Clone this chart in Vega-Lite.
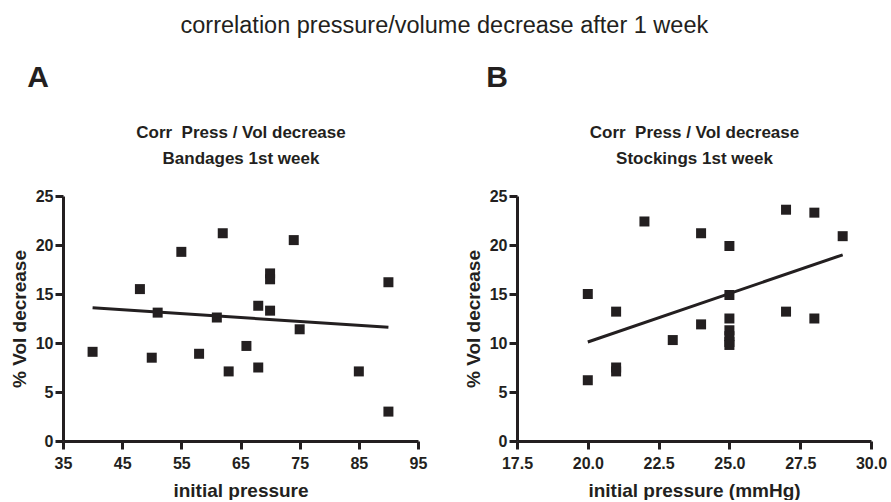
{
  "$schema": "https://vega.github.io/schema/vega-lite/v6.json",
  "background": "white",
  "padding": {"left": 10, "top": 14, "right": 0, "bottom": 0},
  "title": {"text": "correlation pressure/volume decrease after 1 week", "font": "Liberation Sans", "fontSize": 23.5, "fontWeight": "normal", "color": "#231f20", "anchor": "middle", "offset": 25.5, "dx": -4},
  "spacing": 37,
  "config": {
    "view": {"stroke": null},
    "axis": {"grid": false, "labelFlush": false, "labelOverlap": false, "domainColor": "#231f20", "domainWidth": 3, "tickColor": "#231f20", "tickWidth": 3, "tickSize": 8, "labelFont": "Liberation Sans", "labelFontWeight": "bold", "labelFontSize": 16, "labelColor": "#231f20", "labelPadding": 2, "titleFont": "Liberation Sans", "titleFontWeight": "bold", "titleFontSize": 19, "titleColor": "#231f20"},
    "axisX": {"labelPadding": 6, "titlePadding": 10},
    "axisY": {"titlePadding": 6},
    "title": {"font": "Liberation Sans", "color": "#231f20"}
  },
  "hconcat": [
    {
      "title": {"text": "A", "anchor": "start", "fontSize": 30, "fontWeight": "bold", "dx": 17, "offset": 30, "frame": "bounds"},
      "width": 355,
      "height": 245,
      "layer": [
        {
          "data": {"values": [
            {"pressure": 40, "decrease": 9.1}, {"pressure": 48, "decrease": 15.5}, {"pressure": 50, "decrease": 8.5}, {"pressure": 51, "decrease": 13.1},
            {"pressure": 55, "decrease": 19.3}, {"pressure": 58, "decrease": 8.9}, {"pressure": 61, "decrease": 12.6}, {"pressure": 62, "decrease": 21.2},
            {"pressure": 63, "decrease": 7.1}, {"pressure": 66, "decrease": 9.7}, {"pressure": 68, "decrease": 13.8}, {"pressure": 68, "decrease": 7.5},
            {"pressure": 70, "decrease": 17.1}, {"pressure": 70, "decrease": 16.5}, {"pressure": 70, "decrease": 13.3}, {"pressure": 74, "decrease": 20.5},
            {"pressure": 75, "decrease": 11.4}, {"pressure": 85, "decrease": 7.1}, {"pressure": 90, "decrease": 16.2}, {"pressure": 90, "decrease": 3.0}
          ]},
          "mark": {"type": "point", "shape": "square", "filled": true, "size": 100, "color": "#231f20", "opacity": 1},
          "encoding": {
            "x": {"field": "pressure", "type": "quantitative", "scale": {"domain": [35, 95], "nice": false, "zero": false}, "axis": {"orient": "bottom", "title": "initial pressure", "values": [35, 45, 55, 65, 75, 85, 95]}},
            "y": {"field": "decrease", "type": "quantitative", "scale": {"domain": [0, 25], "nice": false}, "axis": {"orient": "left", "title": "% Vol decrease", "values": [0, 5, 10, 15, 20, 25]}}
          }
        },
        {
          "data": {"values": [{"pressure": 40, "decrease": 13.6}, {"pressure": 90, "decrease": 11.6}]},
          "mark": {"type": "line", "color": "#231f20", "strokeWidth": 3},
          "encoding": {
            "x": {"field": "pressure", "type": "quantitative", "scale": {"domain": [35, 95], "nice": false, "zero": false}, "axis": {"orient": "top", "title": ["Corr\u00a0 Press / Vol decrease", "Bandages 1st week"], "titleFontSize": 17, "titleLineHeight": 26, "domain": false, "ticks": false, "labels": false, "grid": false, "titlePadding": 29}},
            "y": {"field": "decrease", "type": "quantitative", "scale": {"domain": [0, 25], "nice": false}, "axis": {"orient": "left", "title": "% Vol decrease", "values": [0, 5, 10, 15, 20, 25]}}
          }
        }
      ]
    },
    {
      "title": {"text": "B", "anchor": "start", "fontSize": 30, "fontWeight": "bold", "dx": 22, "offset": 30, "frame": "bounds"},
      "width": 354,
      "height": 245,
      "layer": [
        {
          "data": {"values": [
            {"pressure": 20, "decrease": 15.0}, {"pressure": 20, "decrease": 6.2}, {"pressure": 21, "decrease": 13.2}, {"pressure": 21, "decrease": 7.5},
            {"pressure": 21, "decrease": 7.1}, {"pressure": 22, "decrease": 22.4}, {"pressure": 23, "decrease": 10.3}, {"pressure": 24, "decrease": 21.2},
            {"pressure": 24, "decrease": 11.9}, {"pressure": 25, "decrease": 19.9}, {"pressure": 25, "decrease": 14.9}, {"pressure": 25, "decrease": 12.5},
            {"pressure": 25, "decrease": 11.3}, {"pressure": 25, "decrease": 10.7}, {"pressure": 25, "decrease": 10.1}, {"pressure": 25, "decrease": 9.8},
            {"pressure": 27, "decrease": 23.6}, {"pressure": 27, "decrease": 13.2}, {"pressure": 28, "decrease": 23.3}, {"pressure": 28, "decrease": 12.5},
            {"pressure": 29, "decrease": 20.9}
          ]},
          "mark": {"type": "point", "shape": "square", "filled": true, "size": 100, "color": "#231f20", "opacity": 1},
          "encoding": {
            "x": {"field": "pressure", "type": "quantitative", "scale": {"domain": [17.5, 30], "nice": false, "zero": false}, "axis": {"orient": "bottom", "title": "initial pressure (mmHg)", "values": [17.5, 20, 22.5, 25, 27.5, 30], "format": ".1f"}},
            "y": {"field": "decrease", "type": "quantitative", "scale": {"domain": [0, 25], "nice": false}, "axis": {"orient": "left", "title": "% Vol decrease", "values": [0, 5, 10, 15, 20, 25]}}
          }
        },
        {
          "data": {"values": [{"pressure": 20, "decrease": 10.1}, {"pressure": 29, "decrease": 19.0}]},
          "mark": {"type": "line", "color": "#231f20", "strokeWidth": 3},
          "encoding": {
            "x": {"field": "pressure", "type": "quantitative", "scale": {"domain": [17.5, 30], "nice": false, "zero": false}, "axis": {"orient": "top", "title": ["Corr\u00a0 Press / Vol decrease", "Stockings 1st week"], "titleFontSize": 17, "titleLineHeight": 26, "domain": false, "ticks": false, "labels": false, "grid": false, "titlePadding": 29}},
            "y": {"field": "decrease", "type": "quantitative", "scale": {"domain": [0, 25], "nice": false}, "axis": {"orient": "left", "title": "% Vol decrease", "values": [0, 5, 10, 15, 20, 25]}}
          }
        }
      ]
    }
  ]
}
